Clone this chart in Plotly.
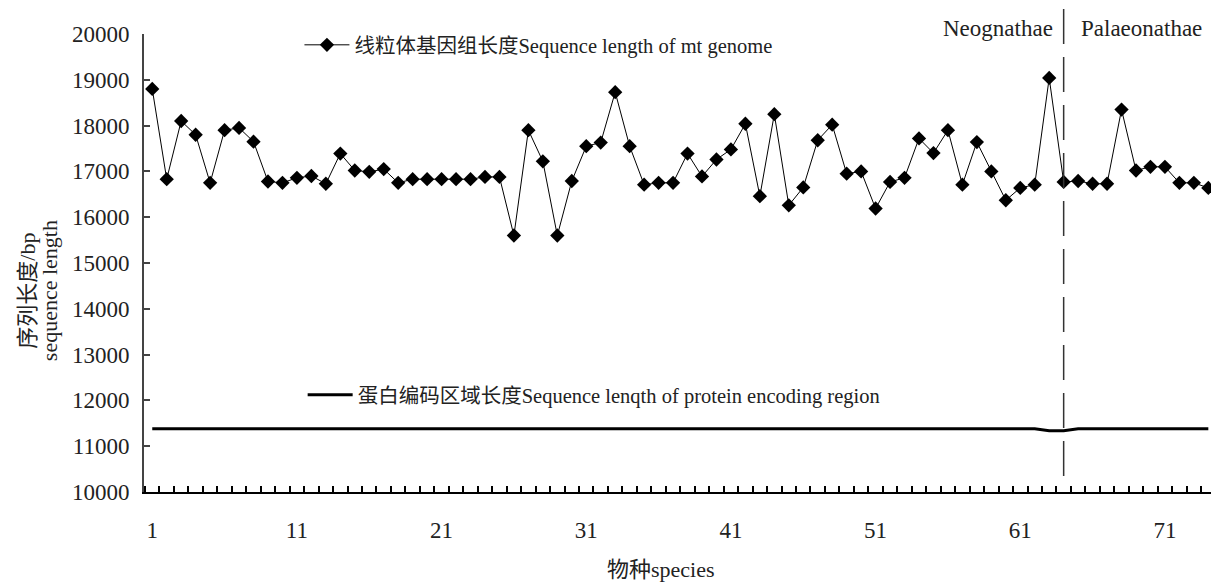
import plotly.graph_objects as go

species = list(range(1, 75))
mt_genome = [18800, 16830, 18100, 17800, 16750, 17900, 17950, 17650, 16780, 16750,
             16860, 16900, 16730, 17390, 17020, 16990, 17050, 16750, 16830, 16830,
             16830, 16830, 16830, 16880, 16880, 15600, 17900, 17220, 15600, 16790,
             17550, 17630, 18730, 17550, 16710, 16750, 16750, 17390, 16890, 17260,
             17480, 18040, 16460, 18250, 16260, 16650, 17680, 18020, 16950, 17000,
             16190, 16770, 16860, 17720, 17400, 17900, 16710, 17640, 17000, 16370,
             16640, 16710, 19040, 16770, 16790, 16730, 16730, 18350, 17020, 17100,
             17100, 16750, 16750, 16640]
protein = [11380] * 62 + [11340, 11340] + [11380] * 10
x_tick_vals = [1, 11, 21, 31, 41, 51, 61, 71]
y_tick_vals = list(range(10000, 20001, 1000))
y_tick_text = [str(v) for v in y_tick_vals]
divider_species = 64

name_mt = "线粒体基因组长度Sequence length of mt genome"
name_prot = "蛋白编码区域长度Sequence lenqth of protein encoding region"

SERIF = "Liberation Serif, Times New Roman, Noto Sans CJK SC, serif"

fig = go.Figure()
fig.add_trace(go.Scatter(
    x=species, y=mt_genome, mode="lines+markers", name=name_mt,
    line=dict(color="black", width=1),
    marker=dict(symbol="diamond", size=11, color="black"),
    legend="legend", showlegend=True,
))
fig.add_trace(go.Scatter(
    x=species, y=protein, mode="lines", name=name_prot,
    line=dict(color="black", width=3),
    legend="legend2", showlegend=True,
))

fig.add_shape(type="line", xref="x", yref="paper",
              x0=divider_species, x1=divider_species, y0=0.035, y1=1.062,
              line=dict(color="#333333", width=1.5, dash="35px,13px"))

fig.add_annotation(text="Neognathae", xref="x", yref="paper", x=divider_species, y=1.013,
                   xanchor="right", yanchor="middle", xshift=-9, showarrow=False,
                   font=dict(family=SERIF, size=23, color="#222"))
fig.add_annotation(text="Palaeonathae", xref="x", yref="paper", x=divider_species, y=1.013,
                   xanchor="left", yanchor="middle", xshift=15, showarrow=False,
                   font=dict(family=SERIF, size=23, color="#222"))
fig.add_annotation(text="物种species", xref="paper", yref="paper", x=0.482, y=-0.17,
                   xanchor="center", yanchor="middle", showarrow=False,
                   font=dict(family=SERIF, size=22, color="#222"))
fig.add_annotation(text="序列长度/bp", xref="paper", yref="paper", x=-0.109, y=0.44,
                   xanchor="center", yanchor="middle", textangle=-90, showarrow=False,
                   font=dict(family=SERIF, size=22, color="#222"))
fig.add_annotation(text="sequence length", xref="paper", yref="paper", x=-0.088, y=0.44,
                   xanchor="center", yanchor="middle", textangle=-90, showarrow=False,
                   font=dict(family=SERIF, size=22, color="#222"))

fig.update_layout(
    width=1211, height=577,
    margin=dict(l=136, r=3, t=26, b=93),
    paper_bgcolor="white", plot_bgcolor="white",
    showlegend=True,
    font=dict(family=SERIF, size=22, color="#222"),
    legend=dict(x=0.145, y=0.976, xanchor="left", yanchor="middle",
                bgcolor="rgba(0,0,0,0)", itemwidth=45,
                font=dict(family=SERIF, size=20.5, color="#222")),
    legend2=dict(x=0.148, y=0.212, xanchor="left", yanchor="middle",
                 bgcolor="rgba(0,0,0,0)", itemwidth=45,
                 font=dict(family=SERIF, size=20.5, color="#222")),
    xaxis=dict(range=[0.43, 74.53], tickmode="array", tickvals=x_tick_vals,
               ticks="", showgrid=False, zeroline=False,
               showline=True, linecolor="black", linewidth=2,
               ticklabelstandoff=16,
               minor=dict(tick0=0.5, dtick=1, ticks="inside", ticklen=6,
                          tickcolor="black", tickwidth=1.5, showgrid=False),
               tickfont=dict(family=SERIF, size=23, color="#222")),
    yaxis=dict(range=[10000, 20000], tickmode="array", tickvals=y_tick_vals,
               ticktext=y_tick_text,
               ticks="inside", ticklen=6, tickcolor="#444", tickwidth=1.5,
               showgrid=False, zeroline=False,
               showline=True, linecolor="#444", linewidth=2,
               ticklabelstandoff=8,
               tickfont=dict(family=SERIF, size=23, color="#222")),
)

fig.write_html("out.html")
